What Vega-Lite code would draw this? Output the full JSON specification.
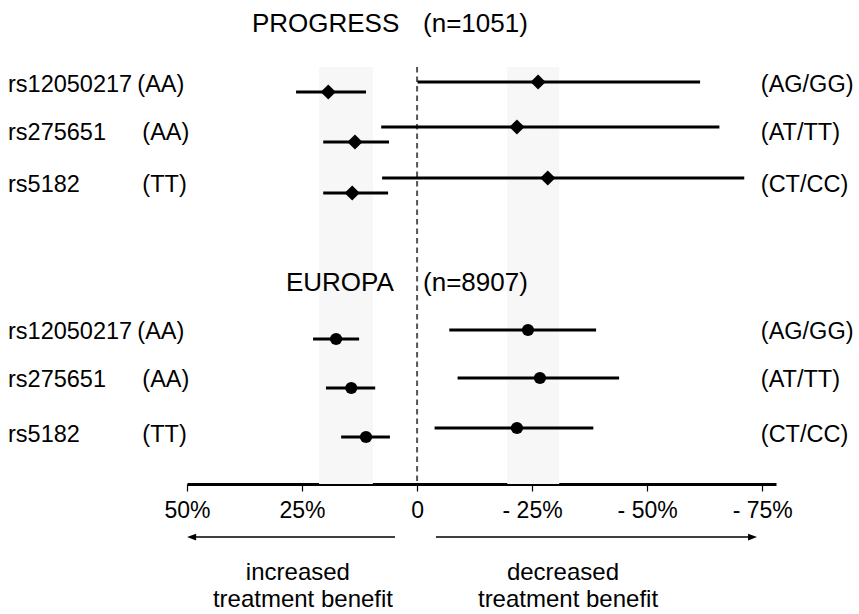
{
  "$schema": "https://vega.github.io/schema/vega-lite/v6.json",
  "width": 589,
  "height": 417,
  "autosize": {"type": "none"},
  "padding": {"left": 187, "top": 67, "right": 83, "bottom": 130},
  "background": "white",
  "resolve": {"scale": {"shape": "independent", "size": "independent"}},
  "config": {
    "view": {"stroke": null},
    "font": "Liberation Sans",
    "axisX": {
      "domainColor": "black",
      "domainWidth": 3,
      "tickColor": "black",
      "tickWidth": 1.2,
      "tickSize": 7,
      "labelFontSize": 23,
      "labelColor": "black",
      "labelFont": "Liberation Sans",
      "labelPadding": 8,
      "labelFlush": false,
      "grid": false
    }
  },
  "datasets": {
    "est": [
      {"study": "PROGRESS", "snp": "rs12050217", "geno": "AA", "row": 1.14, "lo": -26.3, "est": -19.3, "hi": -11.1},
      {"study": "PROGRESS", "snp": "rs12050217", "geno": "AG/GG", "row": 0.94, "lo": 0.1, "est": 26.3, "hi": 61.5},
      {"study": "PROGRESS", "snp": "rs275651", "geno": "AA", "row": 2.14, "lo": -20.4, "est": -13.5, "hi": -6.1},
      {"study": "PROGRESS", "snp": "rs275651", "geno": "AT/TT", "row": 1.84, "lo": -7.8, "est": 21.7, "hi": 65.7},
      {"study": "PROGRESS", "snp": "rs5182", "geno": "TT", "row": 3.16, "lo": -20.4, "est": -14.1, "hi": -6.3},
      {"study": "PROGRESS", "snp": "rs5182", "geno": "CT/CC", "row": 2.86, "lo": -7.6, "est": 28.4, "hi": 71.1},
      {"study": "EUROPA", "snp": "rs12050217", "geno": "AA", "row": 6.08, "lo": -22.6, "est": -17.6, "hi": -12.6},
      {"study": "EUROPA", "snp": "rs12050217", "geno": "AG/GG", "row": 5.9, "lo": 7.0, "est": 24.1, "hi": 38.9},
      {"study": "EUROPA", "snp": "rs275651", "geno": "AA", "row": 7.06, "lo": -19.8, "est": -14.3, "hi": -9.1},
      {"study": "EUROPA", "snp": "rs275651", "geno": "AT/TT", "row": 6.86, "lo": 8.8, "est": 26.7, "hi": 43.9},
      {"study": "EUROPA", "snp": "rs5182", "geno": "TT", "row": 8.04, "lo": -16.5, "est": -11.1, "hi": -5.9},
      {"study": "EUROPA", "snp": "rs5182", "geno": "CT/CC", "row": 7.86, "lo": 3.8, "est": 21.7, "hi": 38.3}
    ],
    "bands": [
      {"b1": -21.3, "b2": -9.6},
      {"b1": 19.6, "b2": 30.9}
    ],
    "ref": [{"x": 0}],
    "titles": [
      {"text": "PROGRESS", "x": -35.9, "row": -0.22},
      {"text": "(n=1051)", "x": 1.3, "row": -0.22},
      {"text": "EUROPA", "x": -28.5, "row": 4.96},
      {"text": "(n=8907)", "x": 1.3, "row": 4.96}
    ],
    "labels": [
      {"text": "rs12050217", "x": -88.9, "row": 1.0},
      {"text": "rs275651", "x": -88.9, "row": 1.96},
      {"text": "rs5182", "x": -88.9, "row": 3.0},
      {"text": "rs12050217", "x": -88.9, "row": 5.94},
      {"text": "rs275651", "x": -88.9, "row": 6.9},
      {"text": "rs5182", "x": -88.9, "row": 8.0},
      {"text": "(AA)", "x": -60.8, "row": 1.0},
      {"text": "(AA)", "x": -59.7, "row": 1.96},
      {"text": "(TT)", "x": -59.7, "row": 3.0},
      {"text": "(AA)", "x": -60.8, "row": 5.94},
      {"text": "(AA)", "x": -59.7, "row": 6.9},
      {"text": "(TT)", "x": -59.7, "row": 8.0},
      {"text": "(AG/GG)", "x": 74.7, "row": 1.0},
      {"text": "(AT/TT)", "x": 74.7, "row": 1.96},
      {"text": "(CT/CC)", "x": 74.7, "row": 3.0},
      {"text": "(AG/GG)", "x": 74.7, "row": 5.94},
      {"text": "(AT/TT)", "x": 74.7, "row": 6.9},
      {"text": "(CT/CC)", "x": 74.7, "row": 8.0}
    ],
    "captions": [
      {"text": "increased", "x": -25.9, "row": 10.76},
      {"text": "treatment benefit", "x": -24.8, "row": 11.3},
      {"text": "decreased", "x": 31.7, "row": 10.76},
      {"text": "treatment benefit", "x": 32.8, "row": 11.3}
    ],
    "arrows": [
      {"dir": "left", "from": -4.8, "to": -48.5, "head": -49.0, "row": 10.04},
      {"dir": "right", "from": 4.1, "to": 72.4, "head": 72.9, "row": 10.04}
    ]
  },
  "layer": [
    {
      "data": {"name": "bands"},
      "mark": {"type": "rect", "color": "#f7f7f7"},
      "encoding": {
        "x": {"field": "b1", "type": "quantitative", "scale": {"domain": [-50, 78]},
          "axis": {
            "values": [-50, -25, 0, 25, 50, 75],
            "title": null,
            "labelExpr": "datum.value < 0 ? (-datum.value) + '%' : (datum.value == 0 ? '0' : '- ' + datum.value + '%')"
          }
        },
        "x2": {"field": "b2"}
      }
    },
    {
      "data": {"name": "ref"},
      "mark": {"type": "rule", "color": "#555555", "strokeDash": [5.5, 4], "strokeWidth": 2},
      "encoding": {
        "x": {"field": "x", "type": "quantitative", "scale": {"domain": [-50, 78]},
          "axis": {
            "values": [-50, -25, 0, 25, 50, 75],
            "title": null,
            "labelExpr": "datum.value < 0 ? (-datum.value) + '%' : (datum.value == 0 ? '0' : '- ' + datum.value + '%')"
          }
        }
      }
    },
    {
      "data": {"name": "est"},
      "mark": {"type": "rule", "color": "black", "strokeWidth": 3},
      "encoding": {
        "x": {"field": "lo", "type": "quantitative", "scale": {"domain": [-50, 78]},
          "axis": {
            "values": [-50, -25, 0, 25, 50, 75],
            "title": null,
            "labelExpr": "datum.value < 0 ? (-datum.value) + '%' : (datum.value == 0 ? '0' : '- ' + datum.value + '%')"
          }
        },
        "x2": {"field": "hi"},
        "y": {"field": "row", "type": "quantitative", "scale": {"domain": [0.64, 8.98], "reverse": true}, "axis": null}
      }
    },
    {
      "data": {"name": "est"},
      "mark": {"type": "point", "filled": true, "color": "black", "opacity": 1},
      "encoding": {
        "x": {"field": "est", "type": "quantitative", "scale": {"domain": [-50, 78]},
          "axis": {
            "values": [-50, -25, 0, 25, 50, 75],
            "title": null,
            "labelExpr": "datum.value < 0 ? (-datum.value) + '%' : (datum.value == 0 ? '0' : '- ' + datum.value + '%')"
          }
        },
        "y": {"field": "row", "type": "quantitative", "scale": {"domain": [0.64, 8.98], "reverse": true}, "axis": null},
        "shape": {"field": "study", "type": "nominal", "scale": {"domain": ["PROGRESS", "EUROPA"], "range": ["diamond", "circle"]}, "legend": null},
        "size": {"field": "study", "type": "nominal", "scale": {"domain": ["PROGRESS", "EUROPA"], "range": [230, 150]}, "legend": null}
      }
    },
    {
      "data": {"name": "arrows"},
      "mark": {"type": "rule", "color": "black", "strokeWidth": 1.5, "clip": false},
      "encoding": {
        "x": {"field": "from", "type": "quantitative", "scale": {"domain": [-50, 78]},
          "axis": {
            "values": [-50, -25, 0, 25, 50, 75],
            "title": null,
            "labelExpr": "datum.value < 0 ? (-datum.value) + '%' : (datum.value == 0 ? '0' : '- ' + datum.value + '%')"
          }
        },
        "x2": {"field": "to"},
        "y": {"field": "row", "type": "quantitative", "scale": {"domain": [0.64, 8.98], "reverse": true}, "axis": null}
      }
    },
    {
      "data": {"name": "arrows"},
      "mark": {"type": "point", "filled": true, "color": "black", "opacity": 1, "size": 81, "strokeWidth": 0, "clip": false},
      "encoding": {
        "x": {"field": "head", "type": "quantitative", "scale": {"domain": [-50, 78]},
          "axis": {
            "values": [-50, -25, 0, 25, 50, 75],
            "title": null,
            "labelExpr": "datum.value < 0 ? (-datum.value) + '%' : (datum.value == 0 ? '0' : '- ' + datum.value + '%')"
          }
        },
        "y": {"field": "row", "type": "quantitative", "scale": {"domain": [0.64, 8.98], "reverse": true}, "axis": null},
        "shape": {"field": "dir", "type": "nominal", "scale": {"domain": ["left", "right"], "range": ["M-1,0L1,-0.75L1,0.75Z", "M1,0L-1,-0.75L-1,0.75Z"]}, "legend": null}
      }
    },
    {
      "data": {"name": "titles"},
      "mark": {"type": "text", "align": "left", "baseline": "middle", "fontSize": 26, "font": "Liberation Sans", "color": "black"},
      "encoding": {
        "x": {"field": "x", "type": "quantitative", "scale": {"domain": [-50, 78]},
          "axis": {
            "values": [-50, -25, 0, 25, 50, 75],
            "title": null,
            "labelExpr": "datum.value < 0 ? (-datum.value) + '%' : (datum.value == 0 ? '0' : '- ' + datum.value + '%')"
          }
        },
        "y": {"field": "row", "type": "quantitative", "scale": {"domain": [0.64, 8.98], "reverse": true}, "axis": null},
        "text": {"field": "text"}
      }
    },
    {
      "data": {"name": "labels"},
      "mark": {"type": "text", "align": "left", "baseline": "middle", "fontSize": 23.5, "font": "Liberation Sans", "color": "black"},
      "encoding": {
        "x": {"field": "x", "type": "quantitative", "scale": {"domain": [-50, 78]},
          "axis": {
            "values": [-50, -25, 0, 25, 50, 75],
            "title": null,
            "labelExpr": "datum.value < 0 ? (-datum.value) + '%' : (datum.value == 0 ? '0' : '- ' + datum.value + '%')"
          }
        },
        "y": {"field": "row", "type": "quantitative", "scale": {"domain": [0.64, 8.98], "reverse": true}, "axis": null},
        "text": {"field": "text"}
      }
    },
    {
      "data": {"name": "captions"},
      "mark": {"type": "text", "align": "center", "baseline": "middle", "fontSize": 24, "font": "Liberation Sans", "color": "black"},
      "encoding": {
        "x": {"field": "x", "type": "quantitative", "scale": {"domain": [-50, 78]},
          "axis": {
            "values": [-50, -25, 0, 25, 50, 75],
            "title": null,
            "labelExpr": "datum.value < 0 ? (-datum.value) + '%' : (datum.value == 0 ? '0' : '- ' + datum.value + '%')"
          }
        },
        "y": {"field": "row", "type": "quantitative", "scale": {"domain": [0.64, 8.98], "reverse": true}, "axis": null},
        "text": {"field": "text"}
      }
    }
  ]
}
